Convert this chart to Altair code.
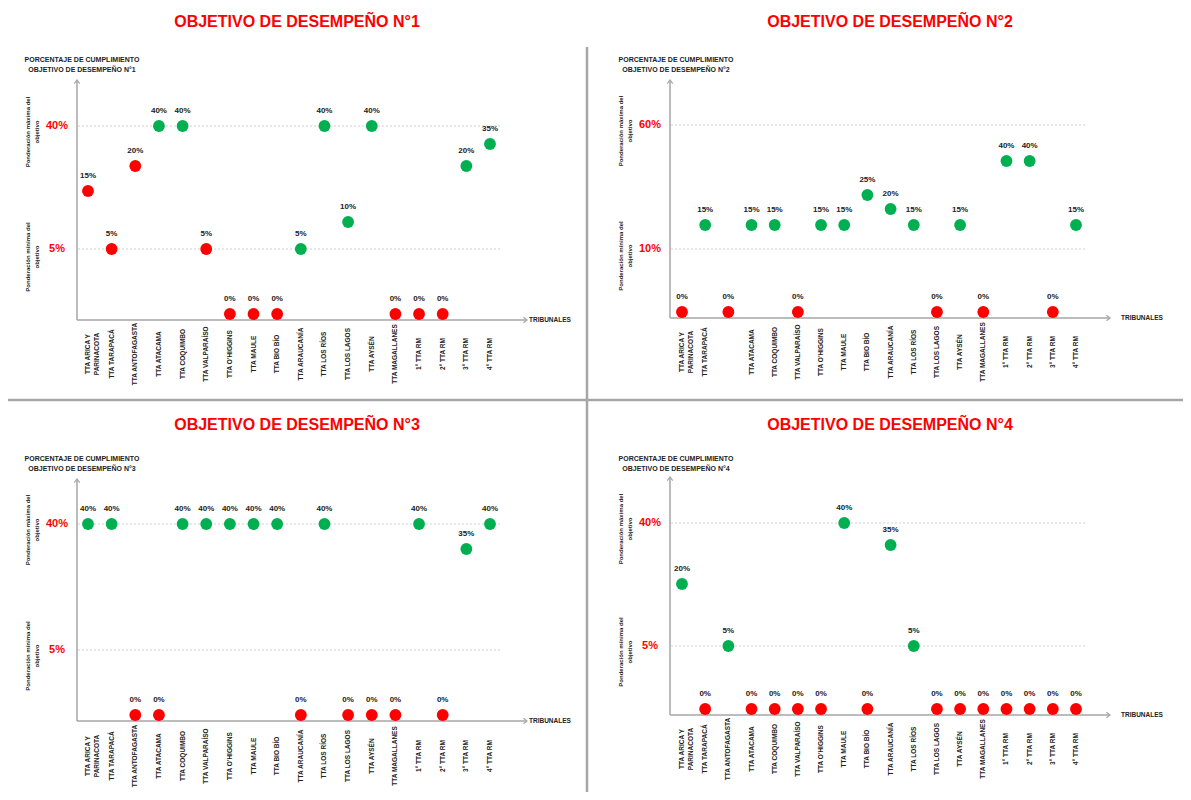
import altair as alt
import pandas as pd

# ---------------- data ----------------
TRIBUNALES = [
    "TTA ARICA Y PARINACOTA", "TTA TARAPACÁ", "TTA ANTOFAGASTA", "TTA ATACAMA",
    "TTA COQUIMBO", "TTA VALPARAÍSO", "TTA O'HIGGINS", "TTA MAULE", "TTA BIO BÍO",
    "TTA ARAUCANÍA", "TTA LOS RÍOS", "TTA LOS LAGOS", "TTA AYSÉN", "TTA MAGALLANES",
    "1° TTA RM", "2° TTA RM", "3° TTA RM", "4° TTA RM",
]
ETIQUETAS = [
    "TTA ARICA Y\nPARINACOTA", "TTA TARAPACÁ", "TTA ANTOFAGASTA", "TTA ATACAMA",
    "TTA COQUIMBO", "TTA VALPARAÍSO", "TTA O'HIGGINS", "TTA MAULE", "TTA BIO BÍO",
    "TTA ARAUCANÍA", "TTA LOS RÍOS", "TTA LOS LAGOS", "TTA AYSÉN", "TTA MAGALLANES",
    "1° TTA RM", "2° TTA RM", "3° TTA RM", "4° TTA RM",
]

VALORES_OD1 = [15, 5, 20, 40, 40, 5, 0, 0, 0, 5, 40, 10, 40, 0, 0, 0, 20, 35]
ESTADO_OD1 = ["N", "N", "N", "C", "C", "N", "N", "N", "N", "C", "C", "C", "C", "N", "N", "N", "C", "C"]

VALORES_OD2 = [0, 15, 0, 15, 15, 0, 15, 15, 25, 20, 15, 0, 15, 0, 40, 40, 0, 15]
ESTADO_OD2 = ["N", "C", "N", "C", "C", "N", "C", "C", "C", "C", "C", "N", "C", "N", "C", "C", "N", "C"]

VALORES_OD3 = [40, 40, 0, 0, 40, 40, 40, 40, 40, 0, 40, 0, 0, 0, 40, 0, 35, 40]
ESTADO_OD3 = ["C", "C", "N", "N", "C", "C", "C", "C", "C", "N", "C", "N", "N", "N", "C", "N", "C", "C"]

VALORES_OD4 = [20, 0, 5, 0, 0, 0, 0, 40, 0, 35, 5, 0, 0, 0, 0, 0, 0, 0]
ESTADO_OD4 = ["C", "N", "C", "N", "N", "N", "N", "C", "N", "C", "C", "N", "N", "N", "N", "N", "N", "N"]

TICKS_OD1 = [5, 40]
TICKS_OD2 = [10, 60]
TICKS_OD3 = [5, 40]
TICKS_OD4 = [5, 40]

OCULTAR_OD2 = ["TTA ANTOFAGASTA"]  # label not shown in panel 2

# ---------------- style ----------------
GREEN = "#00B050"
RED = "#FF0000"
GRAY = "#A6A6A6"
FONT = "Liberation Sans"

LAYOUT = {
    1: dict(x0=69, xaxis_y=312, arrow_top=72, x_range=[80, 482],
            y_dom=[0, 5, 10, 15, 20, 35, 40], y_rng=[306, 241, 214, 183, 158, 136, 118],
            grid_end=492, tick_x=49, title_x=289, title_y=14, por_x=74, por_y=52,
            side_x=20, side_top=124, side_bot=249, label_y=346, trib_x=521, xaxis_end=519),
    2: dict(x0=662, xaxis_y=310, arrow_top=72, x_range=[674, 1068],
            y_dom=[0, 10, 15, 20, 25, 40, 60], y_rng=[304, 241, 217, 201, 187, 153, 117],
            grid_end=1078, tick_x=642, title_x=882, title_y=14, por_x=668, por_y=52,
            side_x=613, side_top=123, side_bot=248, label_y=344, trib_x=1113, xaxis_end=1102),
    3: dict(x0=69, xaxis_y=713, arrow_top=471, x_range=[80, 482],
            y_dom=[0, 5, 35, 40], y_rng=[707, 642, 541, 516],
            grid_end=492, tick_x=49, title_x=289, title_y=417, por_x=74, por_y=451,
            side_x=20, side_top=522, side_bot=648, label_y=748, trib_x=521, xaxis_end=519),
    4: dict(x0=662, xaxis_y=707, arrow_top=469, x_range=[674, 1068],
            y_dom=[0, 5, 20, 35, 40], y_rng=[701, 638, 576, 537, 515],
            grid_end=1078, tick_x=642, title_x=882, title_y=417, por_x=668, por_y=451,
            side_x=613, side_top=521, side_bot=644, label_y=741, trib_x=1113, xaxis_end=1102),
}

DATA = {
    1: (VALORES_OD1, ESTADO_OD1, TICKS_OD1, []),
    2: (VALORES_OD2, ESTADO_OD2, TICKS_OD2, OCULTAR_OD2),
    3: (VALORES_OD3, ESTADO_OD3, TICKS_OD3, []),
    4: (VALORES_OD4, ESTADO_OD4, TICKS_OD4, []),
}

one = pd.DataFrame({"a": [0]})
color_scale = alt.Scale(domain=["C", "N"], range=[GREEN, RED])


def panel(k):
    L = LAYOUT[k]
    vals, est, ticks, hide = DATA[k]
    df = pd.DataFrame({
        "tribunal": TRIBUNALES,
        "nombre": [("" if t in hide else e) for t, e in zip(TRIBUNALES, ETIQUETAS)],
        "valor": vals,
        "estado": est,
        "etiqueta": [f"{v}%" for v in vals],
    })
    tdf = pd.DataFrame({"valor": ticks, "etiqueta": [f"{t}%" for t in ticks]})

    xs = alt.Scale(type="point", domain=TRIBUNALES, range=L["x_range"], padding=0)
    ys = alt.Scale(type="linear", domain=L["y_dom"], range=L["y_rng"], nice=False, zero=False)
    X = alt.X("tribunal:N", scale=xs, axis=None)
    Y = alt.Y("valor:Q", scale=ys, axis=None)

    grid = alt.Chart(tdf).mark_rule(color="#D0D0D0", strokeDash=[2, 2], strokeWidth=1).encode(
        y=Y, x=alt.value(L["x0"] + 1), x2=alt.value(L["grid_end"]))
    tick_lab = alt.Chart(tdf).mark_text(font=FONT, fontSize=11, fontWeight="bold", color=RED,
                                        align="center", baseline="middle").encode(
        y=Y, x=alt.value(L["tick_x"]), text="etiqueta:N")

    yaxis = alt.Chart(one).mark_rule(color=GRAY, strokeWidth=1.5).encode(
        x=alt.value(L["x0"]), y=alt.value(L["arrow_top"]), y2=alt.value(L["xaxis_y"]))
    xaxis = alt.Chart(one).mark_rule(color=GRAY, strokeWidth=1.5).encode(
        x=alt.value(L["x0"]), x2=alt.value(L["xaxis_end"]), y=alt.value(L["xaxis_y"]))
    yarrow = alt.Chart(one).mark_point(shape="M-1,1.3L0,0L1,1.3", filled=False, color=GRAY,
                                       strokeWidth=1.2, size=30, opacity=1).encode(
        x=alt.value(L["x0"]), y=alt.value(L["arrow_top"]))
    xarrow = alt.Chart(one).mark_point(shape="M-1.3,-1L0,0L-1.3,1", filled=False, color=GRAY,
                                       strokeWidth=1.2, size=30, opacity=1).encode(
        x=alt.value(L["xaxis_end"]), y=alt.value(L["xaxis_y"]))

    trib = alt.Chart(one).mark_text(text="TRIBUNALES", font=FONT, fontSize=6.5, fontWeight="bold",
                                    color="#222222", align="left", baseline="middle").encode(
        x=alt.value(L["trib_x"]), y=alt.value(L["xaxis_y"]))
    title = alt.Chart(one).mark_text(text=f"OBJETIVO DE DESEMPEÑO N°{k}", font=FONT, fontSize=16,
                                     fontWeight="bold", color=RED, align="center",
                                     baseline="middle").encode(
        x=alt.value(L["title_x"]), y=alt.value(L["title_y"]))
    por = alt.Chart(one).mark_text(text=f"PORCENTAJE DE CUMPLIMIENTO\nOBJETIVO DE DESEMPEÑO N°{k}",
                                   lineBreak="\n", lineHeight=10, font=FONT, fontSize=7,
                                   fontWeight="bold", color="#222222", align="center",
                                   baseline="middle").encode(
        x=alt.value(L["por_x"]), y=alt.value(L["por_y"]))
    side_top = alt.Chart(one).mark_text(text="Ponderación máxima del\nobjetivo", lineBreak="\n",
                                        lineHeight=9, angle=270, font=FONT, fontSize=6,
                                        fontWeight="bold", color="#222222", align="center",
                                        baseline="middle").encode(
        x=alt.value(L["side_x"]), y=alt.value(L["side_top"]))
    side_bot = alt.Chart(one).mark_text(text="Ponderación mínima del\nobjetivo", lineBreak="\n",
                                        lineHeight=9, angle=270, font=FONT, fontSize=6,
                                        fontWeight="bold", color="#222222", align="center",
                                        baseline="middle").encode(
        x=alt.value(L["side_x"]), y=alt.value(L["side_bot"]))

    pts = alt.Chart(df).mark_circle(size=140, opacity=1).encode(
        x=X, y=Y, color=alt.Color("estado:N", scale=color_scale, legend=None))
    vlab = alt.Chart(df).mark_text(font=FONT, fontSize=8, fontWeight="bold", color="#222222",
                                   dy=-15, align="center", baseline="middle").encode(
        x=X, y=Y, text="etiqueta:N")
    xlab = alt.Chart(df).mark_text(font=FONT, fontSize=6.5, fontWeight="bold", color="#222222",
                                   angle=270, align="center", baseline="middle",
                                   lineBreak="\n", lineHeight=9).encode(
        x=X, y=alt.value(L["label_y"]), text="nombre:N")

    return alt.layer(grid, tick_lab, yaxis, xaxis, yarrow, xarrow, trib, title, por,
                     side_top, side_bot, pts, vlab, xlab)


sep_v = alt.Chart(one).mark_rule(color=GRAY, strokeWidth=2.5).encode(
    x=alt.value(579), y=alt.value(39), y2=alt.value(784))
sep_h = alt.Chart(one).mark_rule(color=GRAY, strokeWidth=2.5).encode(
    x=alt.value(0), x2=alt.value(1175), y=alt.value(392))

chart = alt.layer(panel(1), panel(2), panel(3), panel(4), sep_v, sep_h).resolve_scale(
    x="independent", y="independent"
).properties(
    width=1175, height=784, padding=0,
    autosize=alt.AutoSizeParams(type="none"),
).configure_view(strokeWidth=0)

chart.save("out.html", embed_options={"renderer": "svg", "actions": False})
